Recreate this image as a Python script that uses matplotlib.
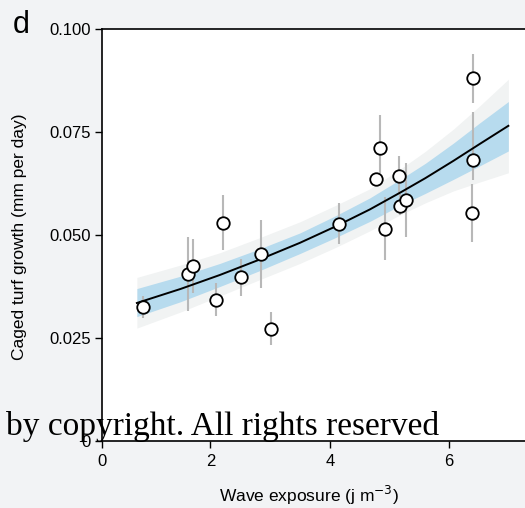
import matplotlib.pyplot as plt
import numpy as np

plt.rcParams['font.family'] = ['Liberation Sans', 'DejaVu Sans']

# observed points (wave exposure, growth) with error bar limits
pts_x = [0.88, 1.62, 1.71, 2.22, 2.10, 2.52, 2.84, 3.02, 4.15,
         4.84, 4.78, 4.92, 5.16, 5.17, 5.28, 6.40, 6.40, 6.38]
pts_y = [0.0326, 0.0406, 0.0425, 0.0530, 0.0343, 0.0397, 0.0454, 0.0273, 0.0527,
         0.0711, 0.0637, 0.0514, 0.0642, 0.0571, 0.0585, 0.0880, 0.0681, 0.0554]
err_lo = [0.0299, 0.0316, 0.0360, 0.0464, 0.0304, 0.0352, 0.0372, 0.0233, 0.0477,
          0.0650, 0.0625, 0.0439, 0.0600, 0.0549, 0.0496, 0.0821, 0.0633, 0.0484]
err_hi = [0.0353, 0.0494, 0.0490, 0.0597, 0.0383, 0.0442, 0.0536, 0.0313, 0.0577,
          0.0791, 0.0650, 0.0593, 0.0692, 0.0600, 0.0674, 0.0939, 0.0799, 0.0624]

# fitted curve and confidence bands
fit_x = [0.77, 1.5, 2.16, 2.8, 3.5, 4.1, 4.67, 5.18, 5.6, 6.07, 6.5, 6.99]
fit_y = [0.0335, 0.0369, 0.0403, 0.0439, 0.0481, 0.0521, 0.0562, 0.0603, 0.0638, 0.0680, 0.0720, 0.0765]
in_lo = [0.0302, 0.0338, 0.0375, 0.0412, 0.0455, 0.0494, 0.0533, 0.0572, 0.0601, 0.0635, 0.0667, 0.0704]
in_hi = [0.0370, 0.0400, 0.0431, 0.0465, 0.0505, 0.0547, 0.0590, 0.0635, 0.0674, 0.0723, 0.0771, 0.0824]
out_lo = [0.0274, 0.0313, 0.0352, 0.0390, 0.0431, 0.0470, 0.0510, 0.0549, 0.0578, 0.0607, 0.0628, 0.0651]
out_hi = [0.0397, 0.0427, 0.0457, 0.0492, 0.0532, 0.0572, 0.0612, 0.0660, 0.0703, 0.0757, 0.0812, 0.0878]

xlim = (0.186, 7.447)
xticks = [xlim[0], 2, 4, 6]
xticklabels = ['0', '2', '4', '6']
yticks = [0, 0.025, 0.05, 0.075, 0.1]
yticklabels = ['0', '0.025', '0.050', '0.075', '0.100']

bg = '#f2f3f5'
fig = plt.figure(figsize=(5.25, 5.08), dpi=100, facecolor=bg)
ax = fig.add_axes([0.1943, 0.1319, 0.826, 0.811])
ax.set_facecolor('white')

ax.fill_between(fit_x, out_lo, out_hi, color='#f1f3f3', lw=0, zorder=1)
ax.fill_between(fit_x, in_lo, in_hi, color='#b7dbee', lw=0, zorder=2)

y = np.array(pts_y)
ax.errorbar(pts_x, pts_y, yerr=[y - np.array(err_lo), np.array(err_hi) - y],
            fmt='none', ecolor='#b8b8b8', elinewidth=1.5, capsize=0, zorder=3)
ax.plot(fit_x, fit_y, color='black', lw=1.4, zorder=4)
ax.plot(pts_x, pts_y, 'o', ms=9, mfc='white', mec='black', mew=1.3, zorder=5)

ax.set_xlim(*xlim)
ax.set_ylim(0, 0.1)
ax.set_xticks(xticks)
ax.set_xticklabels(xticklabels, fontsize=12)
ax.set_yticks(yticks)
ax.set_yticklabels(yticklabels, fontsize=12)
ax.tick_params(direction='out', length=5, width=1, colors='black')
ax.tick_params(axis='x', pad=4.5)
ax.tick_params(axis='y', pad=3)
for s in ax.spines.values():
    s.set_linewidth(1.2)

ax.set_xlabel('Wave exposure (j m$^{-3}$)', fontsize=12.5)
ax.xaxis.set_label_coords(0.477, -0.103)
ax.set_ylabel('Caged turf growth (mm per day)', fontsize=12.5)
ax.yaxis.set_label_coords(-0.172, 0.495)

fig.text(0.024, 0.935, 'd', fontsize=22)
fig.text(0.011, 0.143, 'by copyright. All rights reserved', fontsize=24,
         family='Liberation Serif', zorder=10)

fig.savefig('out.png', dpi=100, facecolor=bg)
